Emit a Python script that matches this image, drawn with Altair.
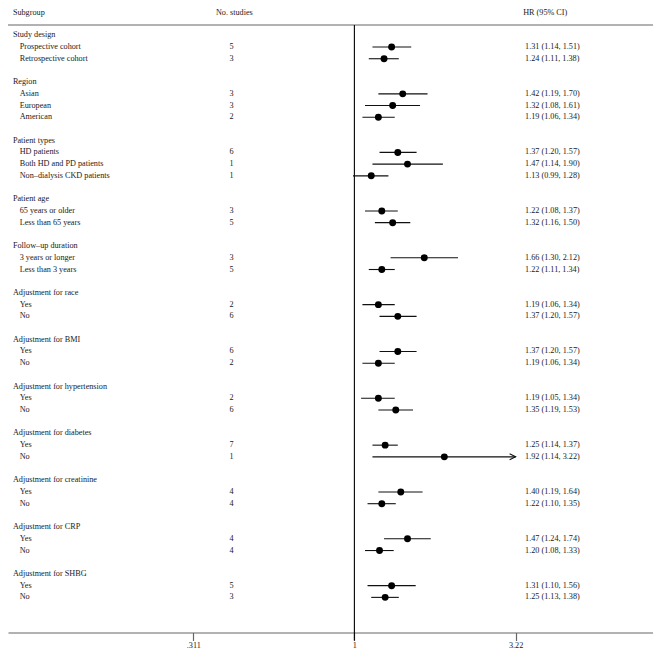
import altair as alt
import pandas as pd

# ---- data ----
group_names = [
    "Study design", "Region", "Patient types", "Patient age", "Follow\u2013up duration",
    "Adjustment for race", "Adjustment for BMI", "Adjustment for hypertension",
    "Adjustment for diabetes", "Adjustment for creatinine", "Adjustment for CRP",
    "Adjustment for SHBG",
]
group_items = [
    ["Prospective cohort", "Retrospective cohort"],
    ["Asian", "European", "American"],
    ["HD patients", "Both HD and PD patients", "Non\u2013dialysis CKD patients"],
    ["65 years or older", "Less than 65 years"],
    ["3 years or longer", "Less than 3 years"],
    ["Yes", "No"], ["Yes", "No"], ["Yes", "No"], ["Yes", "No"],
    ["Yes", "No"], ["Yes", "No"], ["Yes", "No"],
]
n_studies = [[5, 3], [3, 3, 2], [6, 1, 1], [3, 5], [3, 5], [2, 6], [6, 2], [2, 6],
             [7, 1], [4, 4], [4, 4], [5, 3]]
hr = [[1.31, 1.24], [1.42, 1.32, 1.19], [1.37, 1.47, 1.13], [1.22, 1.32], [1.66, 1.22],
      [1.19, 1.37], [1.37, 1.19], [1.19, 1.35], [1.25, 1.92], [1.40, 1.22],
      [1.47, 1.20], [1.31, 1.25]]
ci_low = [[1.14, 1.11], [1.19, 1.08, 1.06], [1.20, 1.14, 0.99], [1.08, 1.16], [1.30, 1.11],
          [1.06, 1.20], [1.20, 1.06], [1.05, 1.19], [1.14, 1.14], [1.19, 1.10],
          [1.24, 1.08], [1.10, 1.13]]
ci_high = [[1.51, 1.38], [1.70, 1.61, 1.34], [1.57, 1.90, 1.28], [1.37, 1.50], [2.12, 1.34],
           [1.34, 1.57], [1.57, 1.34], [1.34, 1.53], [1.37, 3.22], [1.64, 1.35],
           [1.74, 1.33], [1.56, 1.38]]
axis_ticks = [0.311, 1, 3.22]
axis_max = 3.22
headers = ["Subgroup", "No. studies", "HR (95% CI)"]

# ---- build tables ----
head_rows, item_rows = [], []
r = 0
for gi, g in enumerate(group_names):
    head_rows.append({"row": r, "label": g})
    r += 1
    for j, it in enumerate(group_items[gi]):
        item_rows.append({
            "row": r, "label": it, "n": str(n_studies[gi][j]),
            "hr": hr[gi][j], "lo": ci_low[gi][j], "hi": ci_high[gi][j],
            "txt": f"{hr[gi][j]:.2f} ({ci_low[gi][j]:.2f}, {ci_high[gi][j]:.2f})",
        })
        r += 1
    r += 1
heads = pd.DataFrame(head_rows)
items = pd.DataFrame(item_rows)
arrows = items[items["hi"] >= axis_max]
hdr = pd.DataFrame({"t": headers})

W, H = 645, 624.5
S = 0.9757
FONT = "Liberation Serif"
FS = 8.2
TC = "#1a1a1a"

xs = alt.Scale(type="log", domain=[0.0811, 8.72], nice=False)
ys = alt.Scale(domain=[-2.333, 51], reverse=True, nice=False, zero=False)

Y = alt.Y("row:Q", scale=ys, axis=None)

base_items = alt.Chart(items)

ci = base_items.mark_rule(color="#111111", strokeWidth=1.1).encode(
    x=alt.X("lo:Q", scale=xs, axis=alt.Axis(
        values=axis_ticks, title=None, grid=False,
        labelExpr="replace(format(datum.value, '.3~g'), '0.', '.')",
        domainColor="#666666", tickColor="#666666", tickSize=8, labelPadding=1,
        domainWidth=1.2, tickWidth=1.2,
        labelFont=FONT, labelFontSize=FS, labelColor=TC, labelFlush=False)),
    x2="hi:Q", y=Y)

dots = base_items.mark_point(filled=True, color="#000000", size=48, opacity=1,
                             shape="circle").encode(
    x=alt.X("hr:Q", scale=xs, axis=None), y=Y)

arrow = alt.Chart(arrows).mark_point(
    shape="M -2 -1 L 0 0 L -2 1", filled=False, color="#111111",
    strokeWidth=1.1, size=36, opacity=1).encode(
    x=alt.X("hi:Q", scale=xs, axis=None), y=Y)

refline = alt.Chart(pd.DataFrame({"v": [1]})).mark_rule(
    color="#000000", strokeWidth=1.1).encode(
    x=alt.X("v:Q", scale=xs, axis=None), y=alt.value(17), y2=alt.value(H + 8))

topline = alt.Chart(pd.DataFrame({"v": [0]})).mark_rule(
    color="#666666", strokeWidth=1.2).encode(
    x=alt.value(0), x2=alt.value(W), y=alt.value(17))

txt = dict(font=FONT, fontSize=FS, color=TC, baseline="middle")

head_txt = alt.Chart(heads).mark_text(align="left", **txt).encode(
    x=alt.value(5 * S), y=Y, text="label:N")
item_txt = base_items.mark_text(align="left", **txt).encode(
    x=alt.value(12 * S), y=Y, text="label:N")
n_txt = base_items.mark_text(align="center", **txt).encode(
    x=alt.value(229 * S), y=Y, text="n:N")
hr_txt = base_items.mark_text(align="left", **txt).encode(
    x=alt.value(530 * S), y=Y, text="txt:N")

h1 = alt.Chart(hdr[hdr.t == headers[0]]).mark_text(align="left", **txt).encode(
    x=alt.value(5 * S), y=alt.value(5 * S), text="t:N")
h2 = alt.Chart(hdr[hdr.t == headers[1]]).mark_text(align="center", **txt).encode(
    x=alt.value(232 * S), y=alt.value(5 * S), text="t:N")
h3 = alt.Chart(hdr[hdr.t == headers[2]]).mark_text(align="left", **txt).encode(
    x=alt.value(528 * S), y=alt.value(5 * S), text="t:N")

chart = alt.layer(
    topline, refline, ci, dots, arrow, head_txt, item_txt, n_txt, hr_txt, h1, h2, h3
).resolve_axis(x="independent", y="independent").properties(
    width=W, height=H,
    autosize=alt.AutoSizeParams(type="none"),
    padding={"left": 0, "top": 0, "right": 0, "bottom": 19.5},
).configure(background="white").configure_view(stroke=None)

chart.save("out.html", embed_options={"renderer": "svg", "actions": False})
